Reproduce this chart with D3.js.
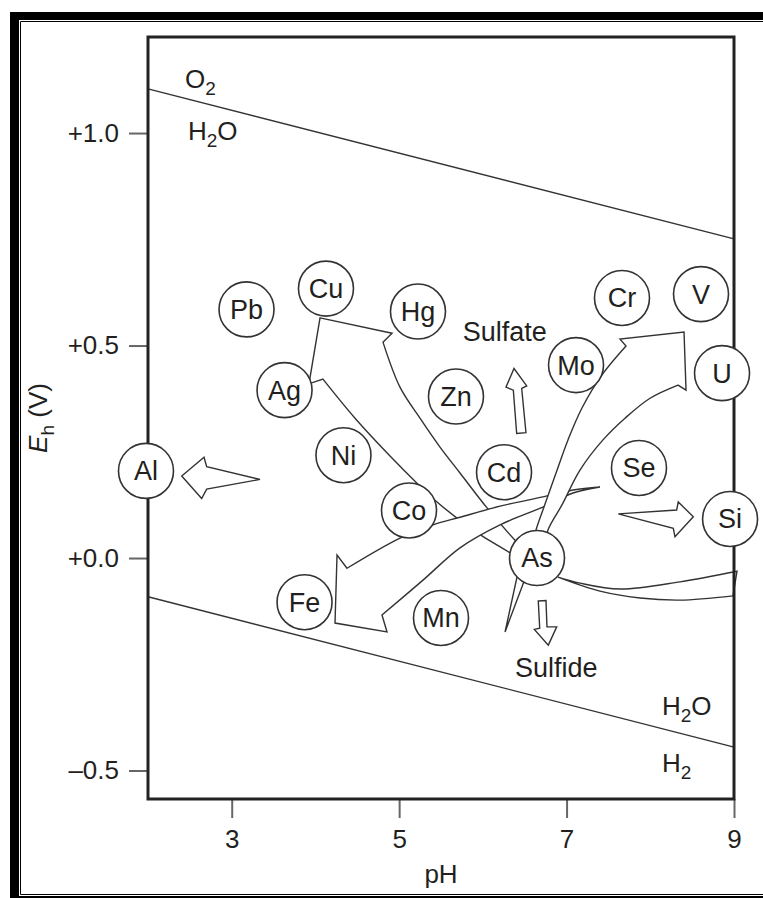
<!DOCTYPE html>
<html>
<head>
<meta charset="utf-8">
<script src="https://cdn.jsdelivr.net/npm/d3@7"></script>
<style>
  body { margin: 0; background: #fff; }
  svg text { font-family: 'Liberation Sans', Arial, Helvetica, sans-serif; fill: #231f20; }
</style>
</head>
<body>
<svg id="chart"></svg>
<script>
// ---- data (pH, Eh in volts) ----
const xTicks = [3, 5, 7, 9];
const yTicks = [1.0, 0.5, 0.0, -0.5];
const yTickLabels = ['+1.0', '+0.5', '+0.0', '\u20130.5'];

// water stability limits
const upperWater = [[2, 1.104], [9, 0.751]];
const lowerWater = [[2, -0.091], [9, -0.445]];

// elements shown in circles
const elemNames = ['Pb', 'Cu', 'Ag', 'Ni', 'Al', 'Co', 'Fe', 'Hg', 'Zn', 'Cd', 'Mo', 'Cr', 'V', 'U', 'Se', 'Si', 'As', 'Mn'];
const elemPH = [3.177, 4.126, 3.631, 4.335, 1.976, 5.118, 3.870, 5.225, 5.679, 6.253, 7.113, 7.662, 8.606, 8.857, 7.865, 8.953, 6.647, 5.50];
const elemEh = [0.585, 0.634, 0.395, 0.242, 0.205, 0.112, -0.104, 0.580, 0.380, 0.202, 0.454, 0.612, 0.621, 0.435, 0.212, 0.092, 0.0, -0.141];

// arrow outlines: [pH, Eh, corner]  (corner = 1 -> sharp point, otherwise smooth)
const hgArrow = [
  [4.055, 0.565, 1], [4.915, 0.529, 1], [4.807, 0.508, 1],
  [5.010, 0.402], [5.249, 0.329], [5.488, 0.261], [5.727, 0.200], [6.050, 0.118], [6.384, 0.042],
  [6.527, 0.014, 1], [6.468, -0.009, 1],
  [6.324, 0.012], [5.990, 0.052], [5.691, 0.094], [5.428, 0.136], [5.213, 0.176], [4.891, 0.240], [4.473, 0.329],
  [4.090, 0.421, 1], [3.923, 0.410, 1]
];
const feArrow = [
  [4.234, -0.153, 1], [4.258, 0.007, 1], [4.377, -0.024, 1],
  [5.010, 0.047], [5.404, 0.078], [5.727, 0.096], [6.205, 0.122], [6.718, 0.144], [7.077, 0.160],
  [7.399, 0.167, 1],
  [7.077, 0.153], [6.718, 0.120], [6.205, 0.078], [5.727, 0.024], [5.285, -0.052],
  [4.795, -0.134, 1], [4.855, -0.174, 1]
];
const vArrow = [
  [8.403, 0.532, 1], [8.427, 0.395, 1], [8.331, 0.407, 1],
  [7.997, 0.376], [7.698, 0.329], [7.435, 0.278], [7.160, 0.207], [6.945, 0.125], [6.778, 0.066],
  [6.742, 0.024, 1], [6.587, 0.024, 1],
  [6.635, 0.066], [6.730, 0.120], [6.874, 0.200], [7.017, 0.278], [7.184, 0.353], [7.423, 0.431],
  [7.710, 0.499, 1], [7.638, 0.515, 1]
];
const eastWedge = [
  [6.898, -0.045, 1],
  [7.160, -0.059], [7.638, -0.073], [8.355, -0.056],
  [9.036, -0.031, 1], [8.988, -0.089, 1],
  [8.355, -0.099], [7.877, -0.094], [7.399, -0.078],
  [6.898, -0.045, 1]
];
const southWedge = [[6.452, -0.005, 1], [6.265, -0.174, 1], [6.587, -0.005, 1]];

const alArrow = [[3.338, 0.185, 1], [2.701, 0.215, 1], [2.669, 0.237, 1], [2.403, 0.193, 1], [2.641, 0.140, 1], [2.701, 0.162, 1]];
const siArrow = [[7.618, 0.104, 1], [8.315, 0.113, 1], [8.334, 0.132, 1], [8.514, 0.097, 1], [8.295, 0.050, 1], [8.275, 0.070, 1]];
const sulfateArrow = [[6.404, 0.293, 1], [6.364, 0.395, 1], [6.276, 0.402, 1], [6.372, 0.446, 1], [6.524, 0.405, 1], [6.464, 0.399, 1], [6.515, 0.295, 1]];
const sulfideArrow = [[6.662, -0.101, 1], [6.754, -0.100, 1], [6.766, -0.162, 1], [6.882, -0.162, 1], [6.782, -0.205, 1], [6.615, -0.168, 1], [6.679, -0.165, 1]];

// ---- layout ----
const width = 763;
const height = 898;
const margin = { top: 37, right: 29, bottom: 99, left: 148 };

const svg = d3.select('#chart').attr('width', width).attr('height', height);

const x = d3.scaleLinear().domain([2, 9]).range([margin.left, width - margin.right]);
const y = d3.scaleLinear().domain([-0.567, 1.226]).range([height - margin.bottom, margin.top]);

//Outer frame of the figure
svg.append('rect').attr('x', 10).attr('y', 12).attr('width', width - 10).attr('height', 8).attr('fill', '#000');
svg.append('rect').attr('x', 10).attr('y', 12).attr('width', 9).attr('height', height - 12).attr('fill', '#000');
svg.append('rect').attr('x', 10).attr('y', 896).attr('width', width - 10).attr('height', 2).attr('fill', '#000');
svg.append('path')
  .attr('d', `M${width},21.5H20.5V894.5H${width}`)
  .attr('fill', 'none')
  .attr('stroke', '#000')
  .attr('stroke-width', 1);

//Axes
const xAxis = d3.axisBottom(x).tickValues(xTicks).tickFormat(d3.format('d')).tickSize(19).tickPadding(12);
const yAxis = d3.axisLeft(y).tickValues(yTicks)
  .tickFormat((d, i) => yTickLabels[i]).tickSize(19).tickPadding(10);

const gx = svg.append('g')
  .attr('transform', `translate(0,${height - margin.bottom})`)
  .call(xAxis);
const gy = svg.append('g')
  .attr('transform', `translate(${margin.left},0)`)
  .call(yAxis);

[gx, gy].forEach((g) => {
  g.select('.domain').remove();
  g.selectAll('.tick line').attr('stroke', '#666').attr('stroke-width', 2);
  g.selectAll('.tick text').attr('font-size', 26).attr('fill', '#231f20')
    .style('font-family', "'Liberation Sans', Arial, sans-serif");
});

//Water limit lines
const line = d3.line().x((d) => x(d[0])).y((d) => y(d[1]));
[upperWater, lowerWater].forEach((w) => {
  svg.append('path').attr('d', line(w))
    .attr('fill', 'none').attr('stroke', '#333').attr('stroke-width', 1.4);
});

// build outline path: smooth runs between sharp corners
const smooth = d3.line().x((d) => x(d[0])).y((d) => y(d[1])).curve(d3.curveCatmullRom);
function outline(pts) {
  const runs = [];
  let cur = [pts[0]];
  for (let i = 1; i < pts.length; i++) {
    cur.push(pts[i]);
    if (pts[i][2]) { runs.push(cur); cur = [pts[i]]; }
  }
  if (cur.length > 1) runs.push(cur);
  return runs.map((r, i) => (i ? smooth(r).replace(/^M/, 'L') : smooth(r))).join('') + 'Z';
}

//Arrows (order matters: later ones sit on top)
const arrows = [hgArrow, feArrow, vArrow, eastWedge, southWedge, alArrow, siArrow, sulfateArrow, sulfideArrow];
svg.append('g')
  .selectAll('path')
  .data(arrows)
  .join('path')
  .attr('d', outline)
  .attr('fill', '#fff')
  .attr('stroke', '#333')
  .attr('stroke-width', 1.4)
  .attr('stroke-linejoin', 'miter');

//Plot frame
svg.append('rect')
  .attr('x', x(2)).attr('y', y(1.226))
  .attr('width', x(9) - x(2)).attr('height', y(-0.567) - y(1.226))
  .attr('fill', 'none').attr('stroke', '#222').attr('stroke-width', 3);

//Element circles
const elems = elemNames.map((name, i) => ({ name, pH: elemPH[i], eh: elemEh[i] }));
const eg = svg.append('g')
  .selectAll('g')
  .data(elems)
  .join('g')
  .attr('transform', (d) => `translate(${x(d.pH)},${y(d.eh)})`);
eg.append('circle').attr('r', 27.5).attr('fill', '#fff').attr('stroke', '#333').attr('stroke-width', 1.6);
eg.append('text').attr('text-anchor', 'middle').attr('dy', '0.35em').attr('font-size', 27).text((d) => d.name);

//Labels with subscripts
function chem(px, eh, parts) {
  const t = svg.append('text').attr('x', x(px)).attr('y', y(eh)).attr('font-size', 26);
  let low = false;
  parts.forEach(([s, sub]) => {
    if (sub) {
      t.append('tspan').attr('font-size', 19).attr('dy', 7).text(s);
      low = true;
    } else {
      t.append('tspan').attr('dy', low ? -7 : 0).text(s);
      low = false;
    }
  });
  return t;
}
chem(2.442, 1.106, [['O'], ['2', 1]]);
chem(2.478, 0.984, [['H'], ['2', 1], ['O']]);
chem(8.140, -0.369, [['H'], ['2', 1], ['O']]);
chem(8.140, -0.504, [['H'], ['2', 1]]);

svg.append('text').attr('x', x(5.759)).attr('y', y(0.511)).attr('font-size', 27).text('Sulfate');
svg.append('text').attr('x', x(6.384)).attr('y', y(-0.28)).attr('font-size', 27).text('Sulfide');

//Axis titles
svg.append('text')
  .attr('x', (x(2) + x(9)) / 2).attr('y', 883)
  .attr('text-anchor', 'middle').attr('font-size', 26).text('pH');

const yl = svg.append('text')
  .attr('transform', `translate(47,${(y(1.226) + y(-0.567)) / 2}) rotate(-90)`)
  .attr('text-anchor', 'middle').attr('font-size', 26);
yl.append('tspan').attr('font-style', 'italic').text('E');
yl.append('tspan').attr('font-size', 19).attr('dy', 7).text('h');
yl.append('tspan').attr('dy', -7).text(' (V)');
</script>
</body>
</html>
